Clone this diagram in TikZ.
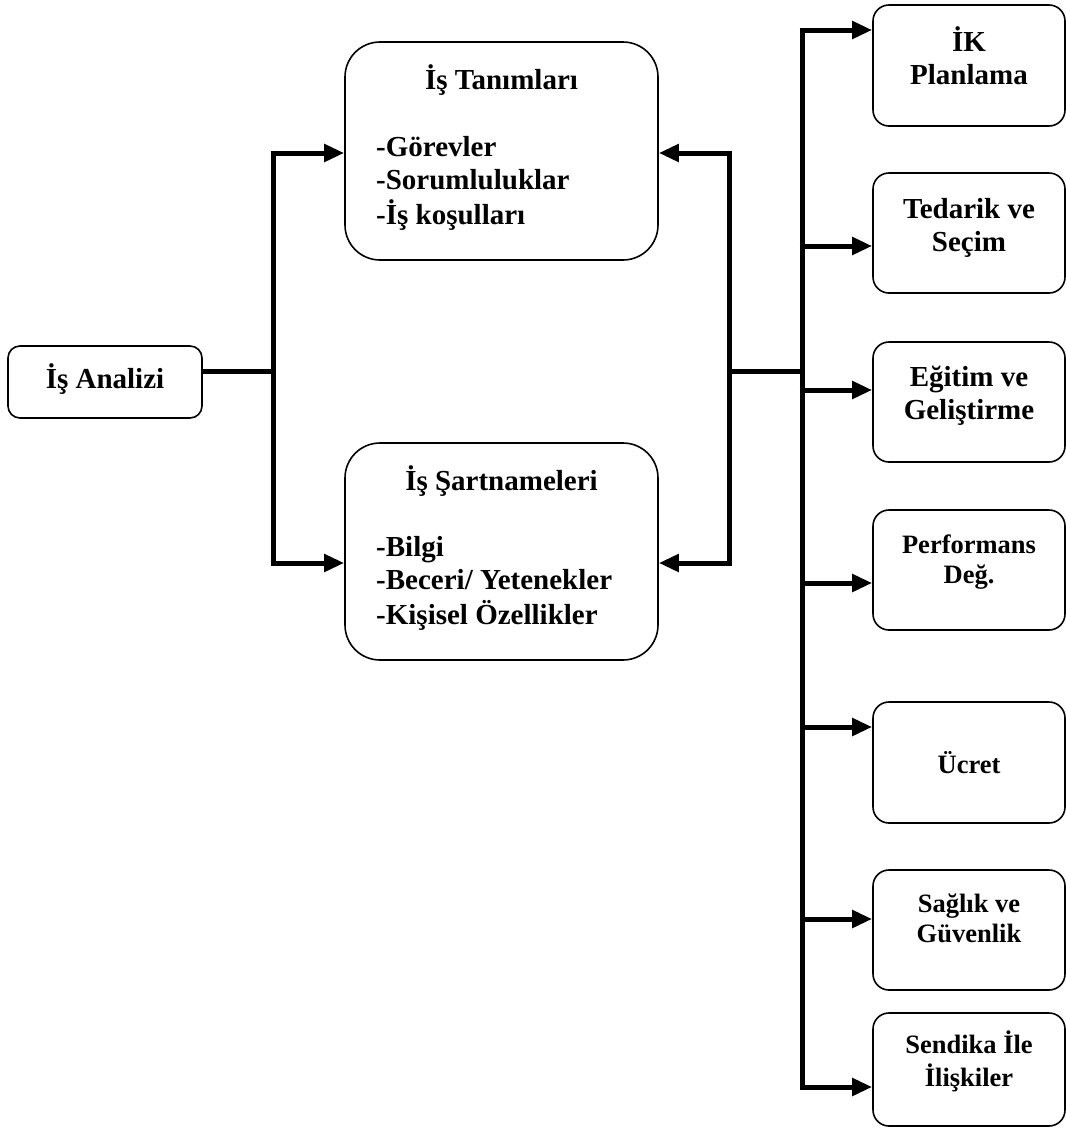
\documentclass[tikz,border=0pt]{standalone}
\usepackage{fontspec}
\setmainfont{Liberation Serif}
\usetikzlibrary{arrows.meta}
\begin{document}
\begin{tikzpicture}[x=1pt,y=-1pt,
  boxline/.style={draw=black,line width=1.6pt,fill=white},
  smallbox/.style={boxline,rounded corners=12pt,minimum width=194pt,minimum height=72pt,inner sep=0pt},
  bigbox/.style={boxline,rounded corners=35pt,minimum width=313pt,minimum height=217pt,inner sep=0pt},
  hrbox/.style={boxline,rounded corners=16pt,minimum width=192pt,minimum height=120pt,inner sep=0pt},
  bigtxt/.style={font=\bfseries\fontsize{29}{33}\selectfont,inner sep=0pt},
  smalltxt/.style={font=\bfseries\fontsize{26.5}{30}\selectfont,inner sep=0pt},
  conn/.style={line width=5pt},
  arr/.style={conn,-{Triangle[length=20pt,width=17pt]}}
]
\useasboundingbox (0,0) rectangle (1066,1133);

% left source box
\node[smallbox] (an) at (105,382) {};
\node[bigtxt,anchor=base] (an-t) at (105,388) {İş Analizi};

% central boxes
\node[bigbox,minimum height=218pt] (tan) at (501.5,151) {};
\node[bigtxt,anchor=base] (tan-h) at (501.5,89) {İş Tanımları};
\node[bigtxt,anchor=west,align=left] (tan-l) at (376,184)
  {\strut-Görevler\\\strut-Sorumluluklar\\\strut-İş koşulları};

\node[bigbox] (sart) at (501.5,551.5) {};
\node[bigtxt,anchor=base] (sart-h) at (501.5,490) {İş Şartnameleri};
\node[bigtxt,anchor=west,align=left] (sart-l) at (376,584)
  {\strut-Bilgi\\\strut-Beceri/ Yetenekler\\\strut-Kişisel Özellikler};

% right column of functions
\node[hrbox,minimum height=121pt] (ik) at (969,65.5) {};
\node[bigtxt,align=center] (ik-t) at (969,61) {\strut İK\\\strut Planlama};

\node[hrbox] (ted) at (969,233) {};
\node[bigtxt,align=center] (ted-t) at (969,228) {\strut Tedarik ve\\\strut Seçim};

\node[hrbox] (egt) at (969,402) {};
\node[bigtxt,align=center] (egt-t) at (969,396) {\strut Eğitim ve\\\strut Geliştirme};

\node[hrbox] (perf) at (969,570) {};
\node[smalltxt,align=center] (perf-t) at (969,562) {\strut Performans\\\strut Değ.};

\node[hrbox,minimum height=121pt] (ucr) at (969,762.5) {};
\node[smalltxt,anchor=base] (ucr-t) at (969,773) {Ücret};

\node[hrbox] (sag) at (969,930) {};
\node[smalltxt,align=center] (sag-t) at (969,921) {\strut Sağlık ve\\\strut Güvenlik};

\node[hrbox,minimum height=113pt] (sen) at (969,1069.5) {};
\node[smalltxt,align=center] (sen-t) at (969,1063) {\strut Sendika İle\\\strut İlişkiler};

% junction points of the connectors
\coordinate (jl) at (273,371);
\coordinate (jr) at (729,371);
\coordinate (jm) at (802,371);

% from the analysis to the two central boxes
\draw[conn] (an.east |- jl) -- (jl);
\draw[conn] (273,150.5) -- (273,565.5);
\draw[arr] (270.5,153) -- (tan.west |- 0,153);
\draw[arr] (270.5,563) -- (sart.west |- 0,563);

% feedback from the right side into the two central boxes
\draw[conn] (729,150.5) -- (729,565.5);
\draw[arr] (731.5,153) -- (tan.east |- 0,153);
\draw[arr] (731.5,563) -- (sart.east |- 0,563);
\draw[conn] (jr) -- (jm);

% trunk feeding the function boxes
\draw[conn] (802,27.5) -- (802,1089.5);
\draw[arr] (799.5,30) -- (ik.west |- 0,30);
\draw[arr] (799.5,246) -- (ted.west |- 0,246);
\draw[arr] (799.5,390) -- (egt.west |- 0,390);
\draw[arr] (799.5,583) -- (perf.west |- 0,583);
\draw[arr] (799.5,727) -- (ucr.west |- 0,727);
\draw[arr] (799.5,919) -- (sag.west |- 0,919);
\draw[arr] (799.5,1087) -- (sen.west |- 0,1087);
\end{tikzpicture}
\end{document}
